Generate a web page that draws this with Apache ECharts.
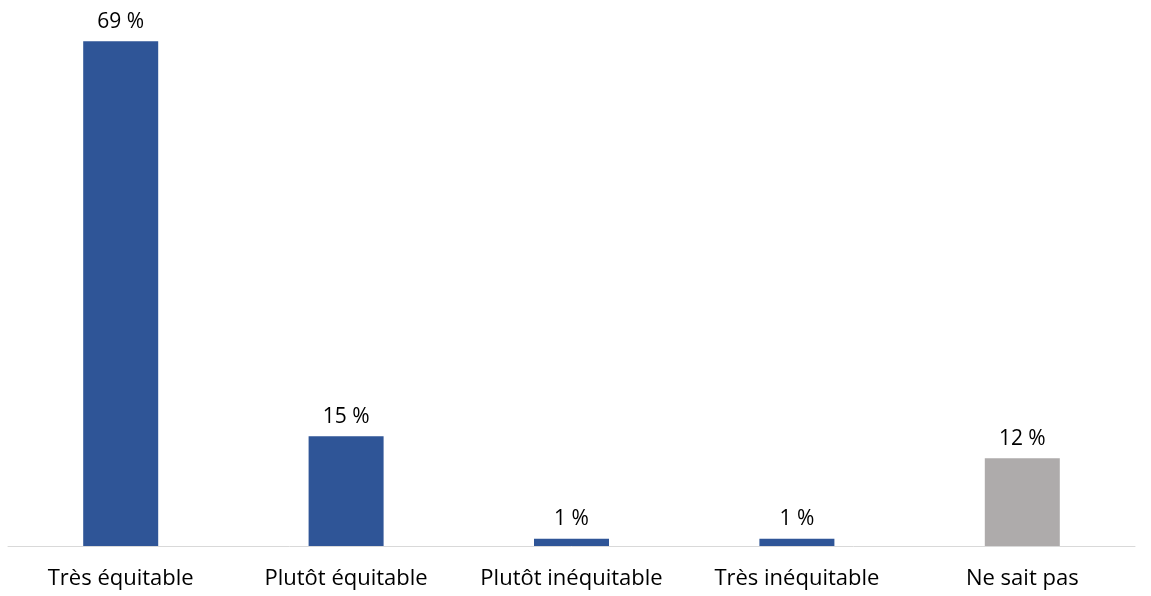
<!DOCTYPE html>
<html>
<head>
<meta charset="utf-8">
<script src="https://cdn.jsdelivr.net/npm/echarts@6/dist/echarts.min.js"></script>
<style>
html,body{margin:0;padding:0;background:#fff;}
#chart{width:1151px;height:596px;}
</style>
</head>
<body>
<div id="chart"></div>
<script>
const categories = ["Très équitable", "Plutôt équitable", "Plutôt inéquitable", "Très inéquitable", "Ne sait pas"];
const values = [69, 15, 1, 1, 12];
const barColors = ["#2F5597", "#2F5597", "#2F5597", "#2F5597", "#AEABAB"];

const chart = echarts.init(document.getElementById('chart'));
chart.setOption({
  animation: false,
  grid: { left: 8, right: 16, top: 34, bottom: 50 },
  xAxis: {
    type: 'category',
    data: categories,
    axisLine: { lineStyle: { color: '#D9D9D9', width: 1 } },
    axisTick: { show: false },
    axisLabel: { interval: 0, hideOverlap: false, color: '#000', fontFamily: 'Open Sans', fontSize: 22, margin: 22 }
  },
  yAxis: {
    type: 'value', min: 0, max: 70,
    show: false,
    splitLine: { show: false }
  },
  series: [{
    type: 'bar',
    barWidth: 75,
    data: values.map((v, i) => ({ value: v, itemStyle: { color: barColors[i] } })),
    label: {
      show: true, position: 'top', distance: 9,
      formatter: p => p.value + ' %',
      color: '#000', fontFamily: 'Open Sans', fontSize: 21
    }
  }]
});
</script>
</body>
</html>
